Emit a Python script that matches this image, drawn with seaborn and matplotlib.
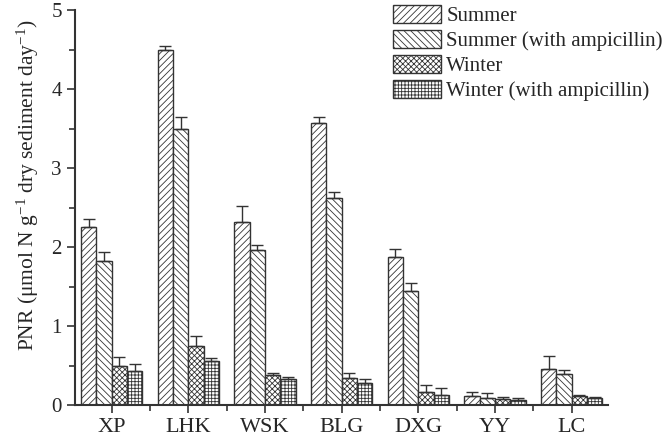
import numpy as np
import pandas as pd
import matplotlib
matplotlib.use("Agg")
import matplotlib.pyplot as plt
import seaborn as sns

sites = ["XP", "LHK", "WSK", "BLG", "DXG", "YY", "LC"]
groups = ["Summer", "Summer (with ampicillin)", "Winter", "Winter (with ampicillin)"]
summer = [2.25, 4.49, 2.32, 3.57, 1.87, 0.11, 0.46]
summer_amp = [1.83, 3.49, 1.96, 2.62, 1.44, 0.09, 0.39]
winter = [0.49, 0.75, 0.38, 0.34, 0.16, 0.08, 0.12]
winter_amp = [0.43, 0.56, 0.33, 0.28, 0.13, 0.07, 0.09]
summer_err = [0.10, 0.05, 0.20, 0.08, 0.10, 0.05, 0.16]
summer_amp_err = [0.11, 0.16, 0.07, 0.08, 0.10, 0.06, 0.05]
winter_err = [0.12, 0.13, 0.02, 0.06, 0.09, 0.025, 0.01]
winter_amp_err = [0.09, 0.03, 0.02, 0.05, 0.09, 0.02, 0.01]

values = [summer, summer_amp, winter, winter_amp]
errors = [summer_err, summer_amp_err, winter_err, winter_amp_err]
hatches = ["/////", "\\\\\\\\\\", "xxxxxx", "+++++"]

rows = []
for g, vals in zip(groups, values):
    for s, v in zip(sites, vals):
        rows.append({"site": s, "group": g, "value": v})
df = pd.DataFrame(rows)

sns.set_style("ticks")
plt.rcParams["font.family"] = ["Liberation Serif", "DejaVu Serif"]
plt.rcParams["mathtext.fontset"] = "custom"
plt.rcParams["mathtext.rm"] = "Liberation Serif"
plt.rcParams["mathtext.it"] = "Liberation Serif:italic"
plt.rcParams["hatch.linewidth"] = 0.6
plt.rcParams["hatch.color"] = "#3a3a3a"

fig = plt.figure(figsize=(6.66, 4.37), dpi=100)
ax = fig.add_axes([0.1126, 0.073, 0.8, 0.904])

edge = "#333333"
sns.barplot(data=df, x="site", y="value", hue="group", order=sites, hue_order=groups,
            palette=["white"] * 4, edgecolor=edge, linewidth=1.0, width=0.8,
            errorbar=None, ax=ax, legend=True)

for cont, h, err in zip(ax.containers, hatches, errors):
    xs, ys = [], []
    for p, e in zip(cont.patches, err):
        p.set_hatch(h)
        p.set_edgecolor(edge)
        xs.append(p.get_x() + p.get_width() / 2)
        ys.append(p.get_height())
    ax.errorbar(xs, ys, yerr=[np.zeros(len(err)), err], fmt="none",
                ecolor=edge, elinewidth=1.0, capsize=4, capthick=1.0, zorder=3)

ax.set_ylim(0, 5)
ax.set_xlim(-0.48, 6.47)
ax.set_yticks([0, 1, 2, 3, 4, 5])
ax.set_yticks([0.5, 1.5, 2.5, 3.5, 4.5], minor=True)
ax.set_xticks(np.arange(0.5, 6, 1), minor=True)
ax.tick_params(axis="both", which="major", labelsize=15, direction="out", length=6, width=1.2, color=edge)
ax.tick_params(axis="both", which="minor", direction="out", length=4, width=1.2, color=edge)
ax.tick_params(axis="x", labelsize=16, pad=3)
for sp in ["top", "right"]:
    ax.spines[sp].set_visible(False)
for sp in ["left", "bottom"]:
    ax.spines[sp].set_linewidth(1.5)
    ax.spines[sp].set_color(edge)

ax.set_xlabel("")
ax.set_ylabel("PNR (μmol N g$^{-1}$ dry sediment day$^{-1}$)", fontsize=15.5)
ax.yaxis.set_label_coords(-0.063, 0.557)

handles, labels = ax.get_legend_handles_labels()
for hnd, h in zip(handles, hatches):
    hnd.set_hatch(h)
    hnd.set_edgecolor(edge)
leg = ax.legend(handles, labels, loc="upper left", bbox_to_anchor=(0.597, 1.012),
                frameon=False, fontsize=15, handlelength=2.3, handleheight=0.9,
                handletextpad=0.25, labelspacing=0.2, borderaxespad=0, borderpad=0)

fig.savefig("out.png", dpi=100)
